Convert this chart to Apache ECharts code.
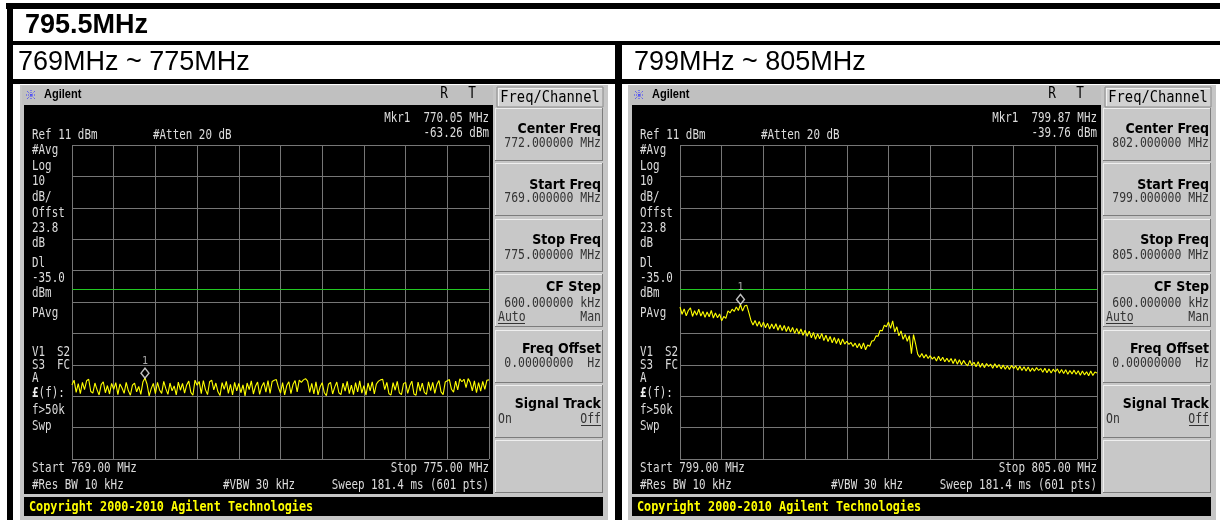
<!DOCTYPE html>
<html><head><meta charset="utf-8">
<script src="https://cdn.jsdelivr.net/npm/echarts@6.0.0/dist/echarts.min.js"></script>
<style>html,body{margin:0;padding:0;background:#fff}#c{width:1220px;height:520px}</style>
</head><body><div id="c"></div><script>
// ---------- data ----------
const titleText = "795.5MHz";
const bandLabels = ["769MHz ~ 775MHz", "799MHz ~ 805MHz"];
const leftSpan = [769, 775];
const rightSpan = [799, 805];
const refLevel = 11;
const dbPerDiv = 10;
const displayLine = -35;
const leftMarker = [770.05, -63.26];
const rightMarker = [799.87, -39.76];
const leftTrace = [
-65.4,-63.9,-67.8,-65.0,-68.2,-64.6,-66.9,-64.1,-63.6,-67.5,
-68.0,-64.8,-66.9,-68.6,-65.3,-64.4,-67.9,-65.6,-68.3,-64.9,
-66.8,-64.7,-68.5,-65.1,-66.4,-68.1,-64.6,-67.2,-68.7,-65.5,
-64.8,-67.6,-65.9,-68.4,-64.5,-63.2,-65.2,-68.9,-66.6,-64.9,
-68.2,-64.6,-67.0,-68.1,-64.3,-66.6,-68.4,-64.8,-67.3,-65.7,
-68.6,-64.5,-67.1,-64.9,-68.0,-65.4,-64.2,-67.8,-68.7,-63.9,
-65.5,-64.3,-68.2,-64.0,-66.9,-68.5,-64.4,-63.9,-67.0,-64.8,
-67.6,-68.8,-64.7,-66.8,-64.3,-68.1,-65.2,-68.6,-64.6,-67.3,
-64.9,-67.9,-65.4,-68.9,-64.8,-66.9,-64.1,-68.3,-65.8,-64.5,
-68.4,-65.9,-64.6,-67.7,-64.0,-68.1,-64.3,-63.9,-63.7,-66.2,
-68.0,-64.7,-68.6,-65.6,-64.4,-68.2,-65.3,-64.0,-67.6,-63.9,
-64.6,-63.8,-63.4,-64.2,-67.8,-64.9,-68.3,-64.4,-68.6,-66.0,
-64.7,-67.9,-68.8,-65.2,-64.6,-68.3,-66.1,-64.5,-67.9,-68.5,
-64.8,-67.4,-64.3,-68.2,-65.5,-68.5,-64.7,-67.6,-64.1,-68.0,
-65.6,-68.7,-64.8,-67.3,-64.4,-68.3,-65.1,-64.2,-63.8,-63.6,
-66.9,-64.6,-68.2,-68.6,-64.7,-67.1,-64.3,-67.9,-68.5,-65.0,
-64.6,-68.1,-65.7,-64.2,-68.3,-68.7,-64.5,-67.4,-64.8,-67.8,
-68.4,-64.4,-67.2,-64.6,-68.1,-65.3,-64.0,-67.6,-68.5,-64.5,
-64.1,-63.7,-66.8,-67.7,-64.2,-67.0,-63.5,-64.4,-63.6,-66.3,
-63.4,-64.6,-67.3,-64.1,-67.9,-64.7,-67.4,-64.3,-66.8,-63.9,
-63.8];
const rightTrace = [
-40.6,-42.9,-41.2,-43.4,-41.7,-40.9,-43.6,-41.8,-43.2,-41.3,
-43.5,-42.0,-43.9,-42.2,-43.7,-41.7,-44.1,-42.5,-44.0,-42.8,
-45.0,-43.6,-44.2,-41.8,-42.5,-41.3,-42.0,-40.6,-41.7,-39.8,
-41.9,-40.3,-40.0,-42.3,-44.8,-46.3,-44.9,-46.7,-45.2,-47.0,
-45.4,-47.2,-45.8,-47.6,-46.0,-47.5,-45.9,-48.0,-46.3,-48.1,
-46.5,-48.4,-46.8,-48.6,-47.1,-49.0,-47.4,-49.2,-47.6,-49.6,
-48.0,-49.9,-48.3,-50.4,-48.7,-50.9,-49.1,-50.7,-49.0,-51.3,
-49.6,-51.6,-50.0,-52.0,-50.3,-52.2,-50.6,-52.6,-50.8,-52.4,
-51.5,-52.5,-51.9,-53.2,-52.1,-53.6,-52.2,-53.9,-52.0,-54.2,
-52.7,-53.1,-51.4,-51.3,-49.8,-49.9,-48.0,-48.2,-46.4,-46.9,
-45.4,-47.4,-45.0,-48.6,-46.9,-49.8,-48.2,-50.9,-49.3,-51.5,
-49.7,-55.5,-49.4,-52.3,-55.6,-56.6,-55.4,-56.8,-55.7,-57.0,
-56.1,-57.2,-56.5,-57.8,-56.3,-57.7,-56.6,-58.0,-56.9,-58.1,
-57.0,-58.6,-57.1,-58.8,-57.4,-59.0,-57.6,-58.7,-59.3,-57.6,
-59.2,-58.2,-59.6,-58.0,-59.8,-58.5,-59.9,-58.6,-59.5,-58.8,
-60.1,-58.7,-59.9,-58.9,-60.3,-59.1,-60.4,-59.3,-60.5,-59.2,
-60.2,-59.3,-60.7,-59.5,-60.8,-59.6,-61.0,-59.7,-61.1,-60.0,
-61.0,-59.9,-60.8,-60.2,-61.4,-60.1,-61.5,-60.3,-61.6,-60.4,
-61.3,-60.3,-61.7,-60.5,-61.8,-60.6,-62.0,-60.8,-61.9,-60.7,
-62.0,-60.9,-62.3,-61.0,-62.2,-61.2,-62.5,-61.0,-62.4,-61.3,
-61.6];
const leftInfo = {mkr:"Mkr1  770.05 MHz", mkrVal:"-63.26 dBm", start:"Start 769.00 MHz", stop:"Stop 775.00 MHz",
  center:"772.000000 MHz", startF:"769.000000 MHz", stopF:"775.000000 MHz"};
const rightInfo = {mkr:"Mkr1  799.87 MHz", mkrVal:"-39.76 dBm", start:"Start 799.00 MHz", stop:"Stop 805.00 MHz",
  center:"802.000000 MHz", startF:"799.000000 MHz", stopF:"805.000000 MHz"};

// ---------- helpers ----------
function build(span, vals){ const n = vals.length; return vals.map((v,i)=>[span[0]+(span[1]-span[0])*i/(n-1), v]); }
const MONO = '"DejaVu Sans Mono"';
function T(x,y,text,o){ o=o||{}; return {type:'text', x:x, y:y, z:o.z||20, scaleX:o.sx||1,
  style:{text:text, fill:o.c||'#dcdcdc', font:o.font||('13.5px '+MONO), align:o.a||'left', verticalAlign:'middle', textAlign:o.a||'left', textVerticalAlign:'middle'}}; }
function scr(x,y,text,a){ return T(x,y,text,{a:a, sx:0.806}); }
function R(x,y,w,h,fill,z,stroke){ return {type:'rect', z:z||1, shape:{x:x,y:y,width:w,height:h}, style:{fill:fill, stroke:stroke||null, lineWidth:stroke?1:0}}; }
function L(x1,y1,x2,y2,c,w,z,dash){ return {type:'line', z:z||2, shape:{x1:x1,y1:y1,x2:x2,y2:y2}, style:{stroke:c, lineWidth:w||1, lineDash:dash||null}}; }

function panel(dx, info){
  const g = [];
  g.push(R(dx+20,85,588,435,'#c6c6c6',1));
  g.push(R(dx+22,86,471,19,'#c0c0c0',1));
  g.push(R(dx+24,105,469,389,'#000',1));
  const cx = dx+31, cy = 95;
  g.push(L(cx-5,cy,cx+5,cy,'#3a3aff',1,2,[1,1]));
  g.push(L(cx,cy-5,cx,cy+5,'#3a3aff',1,2,[1,1]));
  g.push(L(cx-4,cy-4,cx+4,cy+4,'#3a3aff',1,2,[1,1]));
  g.push(L(cx-4,cy+4,cx+4,cy-4,'#3a3aff',1,2,[1,1]));
  g.push(T(dx+44,95,'Agilent',{c:'#000',font:'bold 12px "Liberation Sans"',sx:0.92}));
  g.push(T(dx+444,94,'R',{c:'#000',font:'15px '+MONO,sx:0.85,a:'center'}));
  g.push(T(dx+472,94,'T',{c:'#000',font:'15px '+MONO,sx:0.85,a:'center'}));
  g.push(R(dx+497,87,106,20,'#d2d2d2',1,'#8a8a8a'));
  g.push(L(dx+498,88.5,dx+602,88.5,'#f2f2f2',1,2));
  g.push(L(dx+498.5,88,dx+498.5,106,'#f2f2f2',1,2));
  g.push(T(dx+550,97.5,'Freq/Channel',{c:'#000',font:'16px '+MONO,sx:0.86,a:'center'}));
  const by = [108,163,219,274,330,385,440];
  by.forEach(function(y){
    g.push(R(dx+495,y,108,53,'#c8c8c8',1));
    g.push(L(dx+495,y+0.5,dx+603,y+0.5,'#efefef',1,2));
    g.push(L(dx+495.5,y,dx+495.5,y+53,'#efefef',1,2));
    g.push(L(dx+495,y+52.5,dx+603,y+52.5,'#7c7c7c',1,2));
    g.push(L(dx+602.5,y,dx+602.5,y+53,'#7c7c7c',1,2));
  });
  const lab = {c:'#000',font:'bold 14px "DejaVu Sans"',sx:0.9,a:'right'};
  const val = function(x,y,t,a){ return T(x,y,t,{c:'#333',font:'13.5px '+MONO,sx:0.85,a:a||'right'}); };
  const kx = dx+601;
  g.push(T(kx,129,'Center Freq',lab)); g.push(val(kx,143,info.center));
  g.push(T(kx,185,'Start Freq',lab)); g.push(val(kx,198,info.startF));
  g.push(T(kx,240,'Stop Freq',lab)); g.push(val(kx,255,info.stopF));
  g.push(T(kx,287,'CF Step',lab)); g.push(val(kx,303,'600.000000 kHz'));
  g.push(val(dx+498,317,'Auto','left')); g.push(val(kx,317,'Man'));
  g.push(L(dx+498,323.5,dx+525,323.5,'#333',1,3));
  g.push(T(kx,349,'Freq Offset',lab)); g.push(val(kx,363,'0.00000000  Hz'));
  g.push(T(kx,404,'Signal Track',lab));
  g.push(val(dx+498,419,'On','left')); g.push(val(kx,419,'Off'));
  g.push(L(dx+581,425.5,dx+601,425.5,'#333',1,3));
  g.push(R(dx+24,497,579,19,'#000',1));
  g.push(T(dx+29,507.5,'Copyright 2000-2010 Agilent Technologies',{c:'#ffff00',font:'bold 13.5px '+MONO,sx:0.874}));
  const rx = dx+489, lx = dx+32;
  g.push(scr(rx,118,info.mkr,'right'));
  g.push(scr(rx,133,info.mkrVal,'right'));
  g.push(scr(lx,135,'Ref 11 dBm'));
  g.push(scr(dx+153,135,'#Atten 20 dB'));
  [['#Avg',150],['Log',166],['10',181],['dB/',197],['Offst',213],['23.8',228],['dB',243],
   ['Dl',263],['-35.0',278],['dBm',293],['PAvg',313],['A',378],['f>50k',410],['Swp',426]].forEach(function(p){
    g.push(scr(lx,p[1],p[0]));
  });
  g.push(scr(lx,352,'V1')); g.push(scr(dx+70,352,'S2','right'));
  g.push(scr(lx,365,'S3')); g.push(scr(dx+70,365,'FC','right'));
  g.push(T(lx,393,'£',{font:'bold 13.5px '+MONO,sx:0.806,c:'#eee'}));
  g.push(scr(lx+6.6,393,'(f):'));
  g.push(scr(lx,468,info.start));
  g.push(scr(rx,468,info.stop,'right'));
  g.push(scr(lx,485,'#Res BW 10 kHz'));
  g.push(scr(dx+223,485,'#VBW 30 kHz'));
  g.push(scr(rx,485,'Sweep 181.4 ms (601 pts)','right'));
  return g;
}

const frame = [
  R(6,3,1214,6,'#000',5),
  R(7,3,6,517,'#000',5),
  R(7,41,1213,4,'#000',5),
  R(7,79,1213,5,'#000',5),
  R(615,41,7,479,'#000',5),
  T(25,26,titleText,{c:'#000',font:'bold 27px "Liberation Sans"'}),
  T(18,63,bandLabels[0],{c:'#000',font:'27px "Liberation Sans"'}),
  T(634,63,bandLabels[1],{c:'#000',font:'27px "Liberation Sans"'})
];

const graphics = frame.concat(panel(0,leftInfo), panel(608,rightInfo));

function dataX(i,span){ return {gridIndex:i, type:'value', min:span[0], max:span[1], show:false}; }
function dataY(i){ return {gridIndex:i, type:'value', min:refLevel-10*dbPerDiv, max:refLevel, show:false}; }
function divAxis(i){ return {gridIndex:i, type:'value', min:0, max:10, interval:1, z:3,
  axisLine:{show:false}, axisTick:{show:false}, axisLabel:{show:false},
  splitLine:{show:true, lineStyle:{color:'#767676', width:1}}}; }

function traceSeries(ai, span, vals){
  return {type:'line', xAxisIndex:ai, yAxisIndex:ai, data:build(span,vals), showSymbol:false, z:6,
    lineStyle:{color:'#ffff00', width:1.1}, animation:false,
    markLine:{silent:true, symbol:['none','none'], label:{show:false}, animation:false,
      lineStyle:{color:'#22c822', width:1, type:'solid'}, data:[{yAxis:displayLine}]}};
}
function markerSeries(ai, m){
  return {type:'scatter', xAxisIndex:ai, yAxisIndex:ai, data:[m], symbol:'diamond', symbolSize:[8,10],
    symbolOffset:[0,-5], z:8, itemStyle:{color:'#000', borderColor:'#f0f0f0', borderWidth:1.4},
    label:{show:true, formatter:'1', position:'top', distance:1, color:'#d0d0d0', fontSize:10, fontFamily:'DejaVu Sans Mono'}};
}

const option = {
  animation:false,
  backgroundColor:'#ffffff',
  grid:[{left:72, top:145, width:417, height:314}, {left:680, top:145, width:417, height:314}],
  xAxis:[dataX(0,leftSpan), divAxis(0), dataX(1,rightSpan), divAxis(1)],
  yAxis:[dataY(0), divAxis(0), dataY(1), divAxis(1)],
  series:[
    traceSeries(0,leftSpan,leftTrace), markerSeries(0,leftMarker),
    traceSeries(2,rightSpan,rightTrace), markerSeries(2,rightMarker)
  ],
  graphic:{elements:graphics}
};
const chart = echarts.init(document.getElementById('c'), null, {renderer:'canvas'});
chart.setOption(option);
</script></body></html>
